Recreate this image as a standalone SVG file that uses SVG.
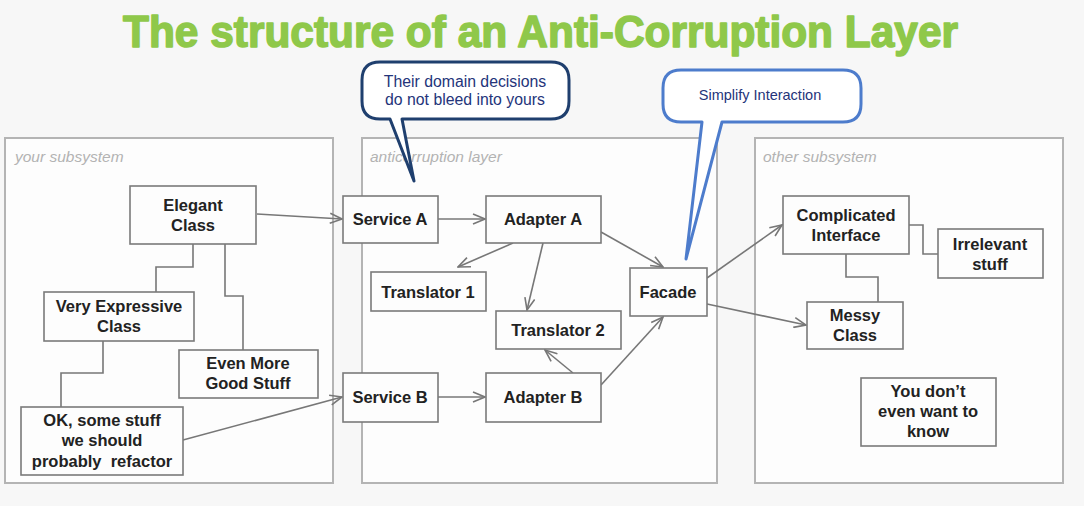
<svg xmlns="http://www.w3.org/2000/svg" width="1084" height="506" viewBox="0 0 1084 506">
<style>
.bg{fill:#f7f7f7}
.title{font-family:"Liberation Sans",Arial,sans-serif;font-weight:bold;font-size:45px;fill:#8fc84a;stroke:#8fc84a;stroke-width:1.6;stroke-linejoin:round}
.panel{fill:#fdfdfd;stroke:#b4b4b4;stroke-width:2}
.plabel{font-family:"Liberation Sans",Arial,sans-serif;font-style:italic;font-size:15.5px;fill:#b3b3b3}
.box{fill:#fdfdfd;stroke:#7a7a7a;stroke-width:1.6}
.t{font-family:"Liberation Sans",Arial,sans-serif;font-weight:bold;font-size:16.5px;fill:#222;text-anchor:middle}
.line{fill:none;stroke:#777;stroke-width:1.6}
.arr{fill:none;stroke:#777;stroke-width:1.6;marker-end:url(#open)}
.c1{fill:#fff;stroke:#1f3f6e;stroke-width:3;stroke-linejoin:round}
.c2{fill:#fff;stroke:#4d7ccc;stroke-width:3;stroke-linejoin:round}
.ct{font-family:"Liberation Sans",Arial,sans-serif;font-size:15.8px;fill:#24347a;text-anchor:middle}
</style>
<defs>
<marker id="open" markerUnits="userSpaceOnUse" markerWidth="14" markerHeight="12" refX="12" refY="5" orient="auto" viewBox="-1 -1 14 12">
<path d="M0,0 L12,5 L0,10" fill="none" stroke="#777" stroke-width="1.6"/>
</marker>
</defs>
<rect class="bg" x="0" y="0" width="1084" height="506"/>
<text class="title" x="123" y="47" textLength="835" lengthAdjust="spacingAndGlyphs">The structure of an Anti-Corruption Layer</text>

<g id="panel-your-subsystem">
<rect class="panel" x="5" y="138" width="328" height="345"/>
<text class="plabel" x="15" y="162">your subsystem</text>
</g>
<g id="panel-anticorruption-layer">
<rect class="panel" x="362" y="138" width="355" height="345"/>
<text class="plabel" x="370" y="162">anticorruption layer</text>
</g>
<g id="panel-other-subsystem">
<rect class="panel" x="755" y="138" width="308" height="345"/>
<text class="plabel" x="763" y="162">other subsystem</text>
</g>

<g id="connectors">
<line class="arr" x1="257" y1="214" x2="342" y2="219"/>
<polyline class="line" points="193,244 193,267 156,267 156,292"/>
<polyline class="line" points="225,244 225,296 243,296 243,350"/>
<polyline class="line" points="103,341 103,373 61,373 61,407"/>
<line class="arr" x1="183" y1="440" x2="342" y2="397"/>
<line class="arr" x1="438" y1="219" x2="485" y2="219"/>
<line class="arr" x1="513" y1="243" x2="458" y2="267"/>
<line class="arr" x1="543" y1="243" x2="527" y2="310"/>
<line class="arr" x1="601" y1="232" x2="663" y2="267"/>
<line class="arr" x1="573" y1="373" x2="545" y2="350"/>
<line class="arr" x1="601" y1="385" x2="663" y2="317"/>
<line class="arr" x1="438" y1="397" x2="485" y2="397"/>
<line class="arr" x1="707" y1="278" x2="782" y2="225"/>
<line class="arr" x1="707" y1="304" x2="806" y2="325"/>
<polyline class="line" points="909,225 923,225 923,254 938,254"/>
<polyline class="line" points="846,254 846,277 878,277 878,302"/>
</g>

<g id="elegant-class">
<rect class="box" x="130" y="186" width="126" height="58"/>
<text class="t" x="193" y="211">Elegant</text>
<text class="t" x="193" y="231">Class</text>
</g>
<g id="very-expressive-class">
<rect class="box" x="44" y="292" width="150" height="49"/>
<text class="t" x="119" y="312">Very Expressive</text>
<text class="t" x="119" y="332">Class</text>
</g>
<g id="even-more-good-stuff">
<rect class="box" x="179" y="350" width="139" height="48"/>
<text class="t" x="248" y="369">Even More</text>
<text class="t" x="248" y="389">Good Stuff</text>
</g>
<g id="ok-some-stuff">
<rect class="box" x="21" y="407" width="162" height="68"/>
<text class="t" x="102" y="426">OK, some stuff</text>
<text class="t" x="102" y="446">we should</text>
<text class="t" x="102" y="467" xml:space="preserve">probably  refactor</text>
</g>
<g id="service-a">
<rect class="box" x="343" y="196" width="95" height="47"/>
<text class="t" x="390" y="225">Service A</text>
</g>
<g id="adapter-a">
<rect class="box" x="486" y="196" width="115" height="47"/>
<text class="t" x="543" y="225">Adapter A</text>
</g>
<g id="translator-1">
<rect class="box" x="371" y="272" width="115" height="39"/>
<text class="t" x="428" y="298">Translator 1</text>
</g>
<g id="translator-2">
<rect class="box" x="496" y="311" width="125" height="38"/>
<text class="t" x="558" y="336">Translator 2</text>
</g>
<g id="facade">
<rect class="box" x="630" y="268" width="77" height="48"/>
<text class="t" x="668" y="298">Facade</text>
</g>
<g id="service-b">
<rect class="box" x="343" y="373" width="95" height="49"/>
<text class="t" x="390" y="403">Service B</text>
</g>
<g id="adapter-b">
<rect class="box" x="486" y="373" width="115" height="49"/>
<text class="t" x="543" y="403">Adapter B</text>
</g>
<g id="complicated-interface">
<rect class="box" x="783" y="196" width="126" height="58"/>
<text class="t" x="846" y="221">Complicated</text>
<text class="t" x="846" y="241">Interface</text>
</g>
<g id="irrelevant-stuff">
<rect class="box" x="938" y="229" width="105" height="49"/>
<text class="t" x="990" y="250">Irrelevant</text>
<text class="t" x="990" y="270">stuff</text>
</g>
<g id="messy-class">
<rect class="box" x="807" y="302" width="96" height="47"/>
<text class="t" x="855" y="321">Messy</text>
<text class="t" x="855" y="341">Class</text>
</g>
<g id="you-dont-even-want-to-know">
<rect class="box" x="861" y="378" width="135" height="68"/>
<text class="t" x="928" y="397">You don’t</text>
<text class="t" x="928" y="417">even want to</text>
<text class="t" x="928" y="437">know</text>
</g>

<g id="callout-domain-decisions">
<path class="c1" d="M380,62 H551 Q569,62 569,80 V101 Q569,119 551,119 H402 L414,181 L390,119 H380 Q362,119 362,101 V80 Q362,62 380,62 Z"/>
<text class="ct" x="465" y="87">Their domain decisions</text>
<text class="ct" x="465" y="105">do not bleed into yours</text>
</g>
<g id="callout-simplify-interaction">
<path class="c2" d="M681,70 H843 Q861,70 861,88 V104 Q861,122 843,122 H722 L686,259 L702,122 H681 Q663,122 663,104 V88 Q663,70 681,70 Z"/>
<text class="ct" x="760" y="100" style="font-size:14.5px">Simplify Interaction</text>
</g>
</svg>
